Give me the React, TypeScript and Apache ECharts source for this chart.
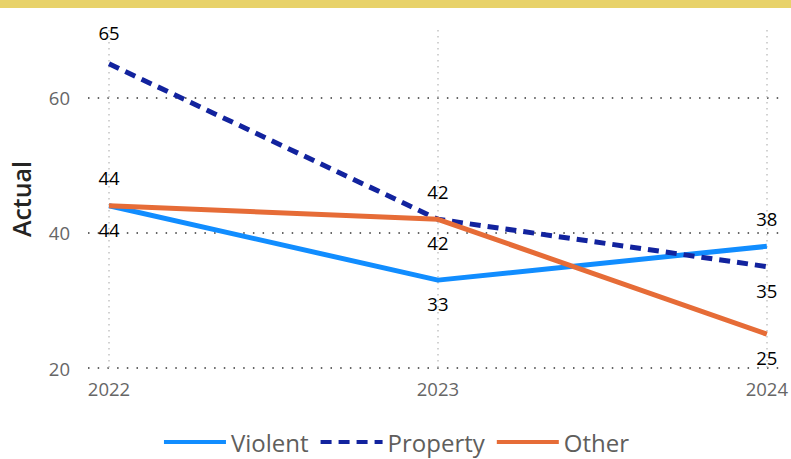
import React, { useEffect, useRef } from "react";
import * as echarts from "echarts";

const years = ["2022", "2023", "2024"];
const violent = [44, 33, 38];
const property = [65, 42, 35];
const other = [44, 42, 25];
const violentLabelPos = ["bottom", "bottom", "top"];
const propertyLabelPos = ["top", "top", "bottom"];
const otherLabelPos = ["top", "bottom", "bottom"];
const yTicks = { min: 20, max: 70, interval: 20 };

const FONT = "'Segoe UI', 'Open Sans', sans-serif";

function mkData(vals: number[], pos: string[]) {
  return vals.map((v, i) => ({
    value: v,
    label: { position: pos[i], distance: pos[i] === "top" ? (v > 60 ? 20 : 16.5) : 12 },
  }));
}

export default function App() {
  const ref = useRef<HTMLDivElement>(null);
  useEffect(() => {
    if (!ref.current) return;
    const chart = echarts.init(ref.current, undefined, { renderer: "svg" });
    const labelCfg = {
      show: true,
      color: "#000",
      fontSize: 18.5,
      fontFamily: FONT,
      distance: 14,
    };
    const common = {
      type: "line",
      xAxisIndex: 0,
      yAxisIndex: 0,
      symbol: "circle",
      symbolSize: 4,
      itemStyle: { color: "rgba(0,0,0,0)", borderWidth: 0 },
      label: labelCfg,
      z: 3,
    };
    chart.setOption({
      animation: false,
      graphic: [
        {
          type: "rect",
          left: 0,
          top: 0,
          shape: { width: 791, height: 8 },
          style: { fill: "#E8D26A" },
        },
      ],
      grid: [
        { left: 109, right: 22, top: 30, bottom: 91 },
        { left: 88, right: 9, top: 30, bottom: 91 },
      ],
      xAxis: [
        {
          type: "category",
          gridIndex: 0,
          data: years,
          boundaryGap: false,
          axisLine: { show: false },
          axisTick: { show: false },
          axisLabel: { color: "#666", fontSize: 18.5, fontFamily: FONT, margin: 11 },
          splitLine: {
            show: true,
            lineStyle: { color: "#c4c4c4", type: [1.5, 4.5], width: 1.5 },
          },
        },
        {
          type: "category",
          gridIndex: 1,
          data: years,
          show: false,
        },
      ],
      yAxis: [
        {
          type: "value",
          gridIndex: 0,
          min: yTicks.min,
          max: yTicks.max,
          interval: yTicks.interval,
          axisLabel: { show: false },
          axisLine: { show: false },
          axisTick: { show: false },
          splitLine: { show: false },
        },
        {
          type: "value",
          gridIndex: 1,
          min: yTicks.min,
          max: yTicks.max,
          interval: yTicks.interval,
          name: "Actual",
          nameLocation: "middle",
          nameGap: 55,
          nameTextStyle: { color: "#252423", fontSize: 25, fontFamily: FONT, fontWeight: 600 },
          axisLabel: {
            color: "#666",
            fontSize: 18.5,
            fontFamily: FONT,
            margin: 18,
            formatter: (v: number) => (v === 70 ? "" : String(v)),
          },
          axisLine: { show: false },
          axisTick: { show: false },
          splitLine: {
            show: true,
            lineStyle: {
              color: ["#333", "#333", "#333", "rgba(0,0,0,0)"],
              type: [1.5, 8.2],
              width: 1.5,
            },
          },
        },
      ],
      legend: {
        bottom: 0,
        left: "center",
        itemWidth: 62,
        itemHeight: 14,
        itemGap: 10,
        lineStyle: { width: 4 },
        textStyle: { color: "#605E5C", fontSize: 24, fontFamily: FONT },
        data: ["Violent", "Property", "Other"],
      },
      series: [
        {
          ...common,
          name: "Violent",
          data: mkData(violent, violentLabelPos),
          lineStyle: { color: "#118DFF", width: 5 },
          color: "#118DFF",
        },
        {
          ...common,
          name: "Property",
          data: mkData(property, propertyLabelPos),
          lineStyle: { color: "#12239E", width: 5, type: [11, 7] },
          color: "#12239E",
        },
        {
          ...common,
          name: "Other",
          data: mkData(other, otherLabelPos),
          lineStyle: { color: "#E66C37", width: 5 },
          color: "#E66C37",
        },
      ],
    });
    return () => chart.dispose();
  }, []);
  return <div ref={ref} style={{ width: 791, height: 459, position: "absolute", left: 0, top: 0 }} />;
}
